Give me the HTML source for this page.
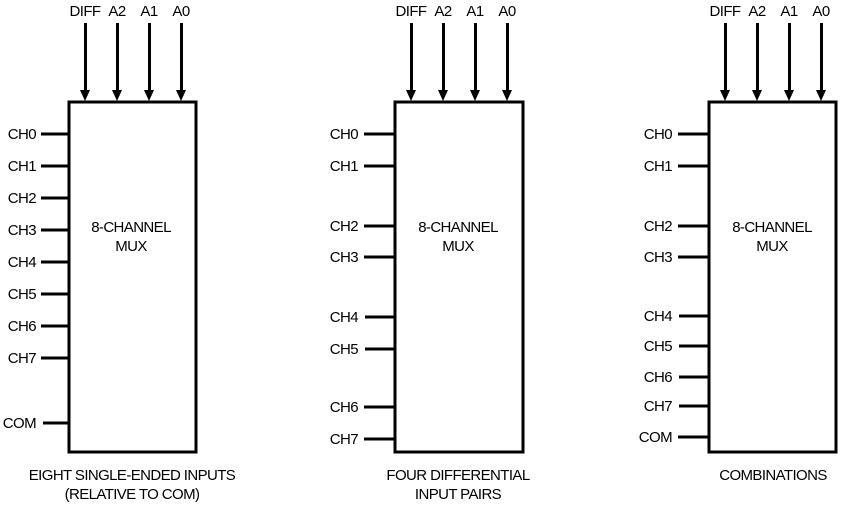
<!DOCTYPE html>
<html><head><meta charset="utf-8"><style>
html,body{margin:0;padding:0;background:#fff;width:843px;height:507px;overflow:hidden}
svg text{font-family:"Liberation Sans",Arial,sans-serif;font-size:15px;fill:#000;letter-spacing:-0.6px}
</style></head><body>
<svg width="843" height="507" viewBox="0 0 843 507" xmlns="http://www.w3.org/2000/svg">
<g stroke="#000" stroke-width="3" fill="none">
<rect x="69" y="102" width="127" height="350"/>
<rect x="395" y="102" width="128" height="350"/>
<rect x="709" y="102" width="127" height="350"/>
</g>
<g fill="#000">
<rect x="84" y="23" width="3" height="68"/><path d="M80,90 L90,90 L85,101 Z"/>
<rect x="116" y="23" width="3" height="68"/><path d="M112,90 L122,90 L117,101 Z"/>
<rect x="148" y="23" width="3" height="68"/><path d="M144,90 L154,90 L149,101 Z"/>
<rect x="180" y="23" width="3" height="68"/><path d="M176,90 L186,90 L181,101 Z"/>
<rect x="410" y="23" width="3" height="68"/><path d="M406,90 L416,90 L411,101 Z"/>
<rect x="442" y="23" width="3" height="68"/><path d="M438,90 L448,90 L443,101 Z"/>
<rect x="474" y="23" width="3" height="68"/><path d="M470,90 L480,90 L475,101 Z"/>
<rect x="506" y="23" width="3" height="68"/><path d="M502,90 L512,90 L507,101 Z"/>
<rect x="724" y="23" width="3" height="68"/><path d="M720,90 L730,90 L725,101 Z"/>
<rect x="756" y="23" width="3" height="68"/><path d="M752,90 L762,90 L757,101 Z"/>
<rect x="788" y="23" width="3" height="68"/><path d="M784,90 L794,90 L789,101 Z"/>
<rect x="820" y="23" width="3" height="68"/><path d="M816,90 L826,90 L821,101 Z"/>
</g>
<g stroke="#000" stroke-width="3">
<line x1="41" y1="134" x2="69" y2="134"/><line x1="41" y1="166" x2="69" y2="166"/>
<line x1="41" y1="198" x2="69" y2="198"/><line x1="41" y1="230" x2="69" y2="230"/>
<line x1="41" y1="262" x2="69" y2="262"/><line x1="41" y1="294" x2="69" y2="294"/>
<line x1="41" y1="326" x2="69" y2="326"/><line x1="41" y1="358" x2="69" y2="358"/>
<line x1="43" y1="423" x2="69" y2="423"/>
<line x1="364" y1="134" x2="395" y2="134"/><line x1="364" y1="166" x2="395" y2="166"/>
<line x1="364" y1="226" x2="395" y2="226"/><line x1="364" y1="257" x2="395" y2="257"/>
<line x1="365" y1="317" x2="395" y2="317"/><line x1="365" y1="349" x2="395" y2="349"/>
<line x1="364" y1="407" x2="395" y2="407"/><line x1="364" y1="439" x2="395" y2="439"/>
<line x1="678" y1="134" x2="709" y2="134"/><line x1="678" y1="166" x2="709" y2="166"/>
<line x1="678" y1="226" x2="709" y2="226"/><line x1="678" y1="257" x2="709" y2="257"/>
<line x1="679" y1="316" x2="709" y2="316"/><line x1="679" y1="346" x2="709" y2="346"/>
<line x1="679" y1="377" x2="709" y2="377"/><line x1="679" y1="406" x2="709" y2="406"/>
<line x1="678" y1="437" x2="709" y2="437"/>
</g>
<g text-anchor="middle">
<text x="85" y="16">DIFF</text><text x="117" y="16">A2</text><text x="149" y="16">A1</text><text x="181" y="16">A0</text>
<text x="411" y="16">DIFF</text><text x="443" y="16">A2</text><text x="475" y="16">A1</text><text x="507" y="16">A0</text>
<text x="725" y="16">DIFF</text><text x="757" y="16">A2</text><text x="789" y="16">A1</text><text x="821" y="16">A0</text>
<text x="131" y="232">8-CHANNEL</text><text x="131" y="251">MUX</text>
<text x="458" y="232">8-CHANNEL</text><text x="458" y="251">MUX</text>
<text x="772" y="232">8-CHANNEL</text><text x="772" y="251">MUX</text>
<text x="132" y="480">EIGHT SINGLE-ENDED INPUTS</text><text x="132" y="499">(RELATIVE TO COM)</text>
<text x="458" y="480">FOUR DIFFERENTIAL</text><text x="458" y="499">INPUT PAIRS</text>
<text x="773" y="480">COMBINATIONS</text>
</g>
<g text-anchor="end">
<text x="36" y="139">CH0</text><text x="36" y="171">CH1</text><text x="36" y="203">CH2</text><text x="36" y="235">CH3</text>
<text x="36" y="267">CH4</text><text x="36" y="299">CH5</text><text x="36" y="331">CH6</text><text x="36" y="363">CH7</text>
<text x="36" y="428">COM</text>
<text x="358" y="139">CH0</text><text x="358" y="171">CH1</text><text x="358" y="231">CH2</text><text x="358" y="262">CH3</text>
<text x="358" y="322">CH4</text><text x="358" y="354">CH5</text><text x="358" y="412">CH6</text><text x="358" y="444">CH7</text>
<text x="672" y="139">CH0</text><text x="672" y="171">CH1</text><text x="672" y="231">CH2</text><text x="672" y="262">CH3</text>
<text x="672" y="321">CH4</text><text x="672" y="351">CH5</text><text x="672" y="382">CH6</text><text x="672" y="411">CH7</text>
<text x="672" y="442">COM</text>
</g>
</svg>
</body></html>
